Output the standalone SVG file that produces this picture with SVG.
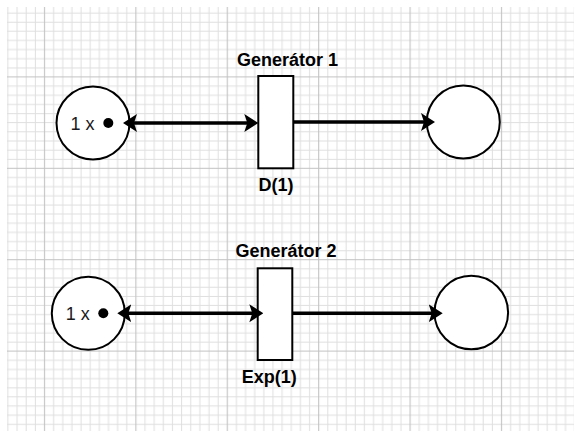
<svg xmlns="http://www.w3.org/2000/svg" width="574" height="431" viewBox="0 0 574 431">
  <style>
    .place { fill: #ffffff; stroke: #000000; stroke-width: 2; }
    .trans { fill: #ffffff; stroke: #000000; stroke-width: 2; }
    .token { fill: #000000; }
    .lbl { font-family: "Liberation Sans", Arial, sans-serif; font-size: 18px; font-weight: bold; fill: #000000; text-anchor: middle; }
    .cnt { font-family: "Liberation Sans", Arial, sans-serif; font-size: 18px; fill: #1a1a1a; text-anchor: start; }
    .edge { fill: none; stroke: #000000; stroke-width: 3.4; }
    .minor { stroke: #dfdfdf; stroke-width: 1; fill: none; }
    .major { stroke: #c2c2c2; stroke-width: 1; fill: none; }
  </style>
  <defs>
    <pattern id="grid" patternUnits="userSpaceOnUse" x="39.93" y="72.43" width="91.4" height="91.4">
      <path class="minor" d="M4.57,0V91.4M13.71,0V91.4M22.85,0V91.4M31.99,0V91.4M41.13,0V91.4M50.27,0V91.4M59.41,0V91.4M68.55,0V91.4M77.69,0V91.4M86.83,0V91.4M0,4.57H91.4M0,13.71H91.4M0,22.85H91.4M0,31.99H91.4M0,41.13H91.4M0,50.27H91.4M0,59.41H91.4M0,68.55H91.4M0,77.69H91.4M0,86.83H91.4"/>
      <path class="major" d="M4.57,0V91.4M0,4.57H91.4"/>
    </pattern>
    <marker id="arrow" viewBox="0 -10 14 20" refX="4" refY="0" markerWidth="14" markerHeight="20" markerUnits="userSpaceOnUse" orient="auto-start-reverse">
      <path d="M0,-9 L14,0 L0,9 L3,0 Z" fill="#000000"/>
    </marker>
  </defs>
  <rect x="0" y="0" width="574" height="431" fill="#ffffff"/>
  <rect x="7" y="7" width="567" height="424" fill="url(#grid)"/>

  <g id="place-1">
    <circle class="place" cx="93" cy="123" r="36.5"/>
    <text class="cnt" x="70.5" y="129.5">1 x</text>
    <circle class="token" cx="108.3" cy="123" r="5"/>
  </g>
  <g id="generator-1">
    <rect class="trans" x="258.3" y="76" width="35" height="92.3"/>
    <text class="lbl" x="287.5" y="65.5">Generátor 1</text>
    <text class="lbl" x="276" y="191">D(1)</text>
  </g>
  <g id="place-1-out">
    <circle class="place" cx="463.3" cy="122" r="36.5"/>
  </g>

  <g id="place-2">
    <circle class="place" cx="88.3" cy="313.3" r="36.5"/>
    <text class="cnt" x="65.8" y="319.5">1 x</text>
    <circle class="token" cx="103.3" cy="313.3" r="5"/>
  </g>
  <g id="generator-2">
    <rect class="trans" x="257.7" y="268.3" width="34.6" height="91.7"/>
    <text class="lbl" x="286" y="257.3">Generátor 2</text>
    <text class="lbl" x="269.2" y="383.3">Exp(1)</text>
  </g>
  <g id="place-2-out">
    <circle class="place" cx="471.3" cy="312.5" r="36.8"/>
  </g>

  <g id="connectors">
    <path class="edge" d="M133,123 L248.3,123" marker-start="url(#arrow)" marker-end="url(#arrow)"/>
    <path class="edge" d="M293.3,122 L425,122" marker-end="url(#arrow)"/>
    <path class="edge" d="M127.3,313.3 L253.3,313.3" marker-start="url(#arrow)" marker-end="url(#arrow)"/>
    <path class="edge" d="M292.3,313.3 L432.7,313.3" marker-end="url(#arrow)"/>
  </g>
</svg>
